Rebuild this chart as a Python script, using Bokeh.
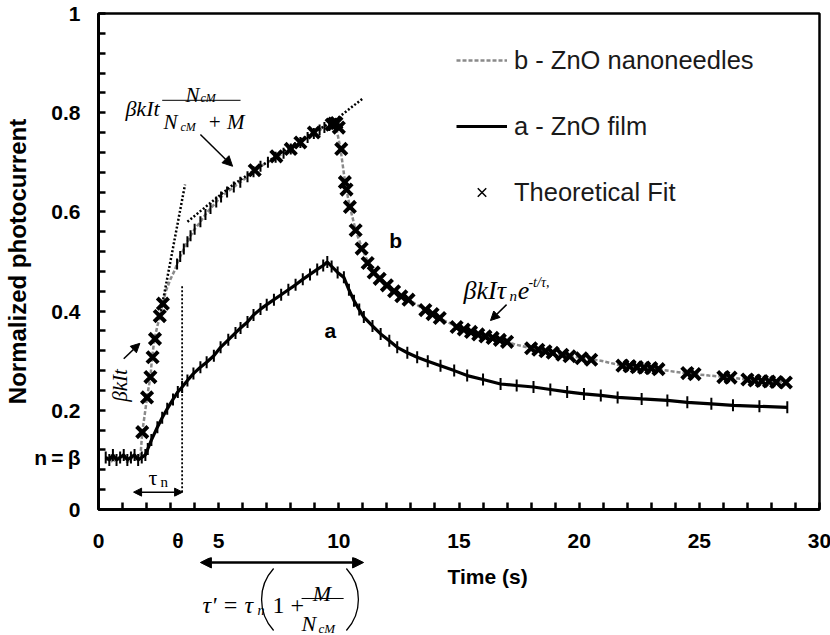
import numpy as np
from bokeh.plotting import figure
from bokeh.layouts import column
from bokeh.models import (FixedTicker, Legend, LegendItem, Label, Arrow,
                          NormalHead, Range1d)
from bokeh.embed import file_html
from bokeh.resources import INLINE

# ---------------- data ----------------
a_t = [0.3, 0.45, 0.6, 0.75, 0.9, 1.05, 1.2, 1.35, 1.5, 1.65, 1.8, 1.95, 2.05, 2.2,
       2.45, 2.65, 2.86, 3.1, 3.3, 3.48, 3.7, 3.95, 4.24, 4.5, 4.8, 5.08, 5.4, 5.7,
       5.91, 6.2, 6.45, 6.74, 7.0, 7.3, 7.6, 7.9, 8.2, 8.5, 8.8, 9.1, 9.35, 9.52,
       9.7, 9.95, 10.21, 10.42, 10.63, 10.85, 11.04, 11.4, 11.74, 12.1, 12.43,
       12.85, 13.26, 13.7, 14.23, 14.8, 15.34, 16.0, 16.73, 17.4, 18.1, 18.8, 19.5,
       20.2, 20.9, 21.6, 22.6, 23.67, 24.5, 25.5, 26.4, 27.5, 28.66]
a_y = [0.105, 0.10, 0.11, 0.10, 0.105, 0.11, 0.10, 0.105, 0.11, 0.10, 0.105, 0.11,
       0.122, 0.14, 0.166, 0.185, 0.203, 0.222, 0.237, 0.247, 0.26, 0.274, 0.287,
       0.297, 0.31, 0.327, 0.342, 0.356, 0.366, 0.378, 0.392, 0.404, 0.413, 0.423,
       0.433, 0.443, 0.453, 0.464, 0.474, 0.484, 0.492, 0.499, 0.49, 0.478, 0.468,
       0.443, 0.421, 0.403, 0.388, 0.37, 0.354, 0.34, 0.327, 0.316, 0.307, 0.299,
       0.29, 0.28, 0.27, 0.262, 0.253, 0.25, 0.247, 0.242, 0.237, 0.233, 0.23,
       0.226, 0.223, 0.22, 0.216, 0.213, 0.21, 0.208, 0.206]

b_t = [0.3, 0.45, 0.6, 0.75, 0.9, 1.05, 1.2, 1.35, 1.5, 1.65, 1.75, 1.82, 1.92, 2.02,
       2.1, 2.16, 2.23, 2.33, 2.45, 2.58, 2.65, 2.8, 3.0, 3.15, 3.27, 3.4, 3.55, 3.7,
       3.83, 4.0, 4.24, 4.45, 4.66, 4.9, 5.1, 5.35, 5.63, 5.9, 6.2, 6.45, 6.74, 7.05,
       7.37, 7.7, 8.0, 8.4, 8.7, 8.96, 9.2, 9.4, 9.6, 9.86, 10.07, 10.28, 10.46,
       10.7, 10.97, 11.25, 11.6, 12.0, 12.43, 12.98, 13.4, 13.95, 14.5, 15.34, 16.0,
       16.73, 17.4, 18.1, 18.8, 19.5, 20.2, 20.9, 21.6, 22.3, 22.97, 23.8, 24.6,
       25.4, 26.16, 26.8, 27.4, 28.0, 28.66]
b_y = [0.10, 0.105, 0.095, 0.105, 0.10, 0.105, 0.095, 0.105, 0.10, 0.105, 0.11,
       0.156, 0.19, 0.226, 0.25, 0.267, 0.307, 0.344, 0.37, 0.394, 0.41, 0.44,
       0.465, 0.48, 0.495, 0.51, 0.525, 0.54, 0.552, 0.565, 0.58, 0.595, 0.607,
       0.62, 0.63, 0.64, 0.65, 0.66, 0.671, 0.681, 0.692, 0.70, 0.71, 0.718, 0.727,
       0.74, 0.75, 0.758, 0.765, 0.77, 0.774, 0.778, 0.727, 0.653, 0.61, 0.563,
       0.526, 0.495, 0.468, 0.452, 0.437, 0.421, 0.408, 0.392, 0.378, 0.361, 0.35,
       0.341, 0.332, 0.324, 0.316, 0.31, 0.305, 0.30, 0.292, 0.288, 0.285, 0.279,
       0.274, 0.27, 0.267, 0.263, 0.26, 0.258, 0.256]

fit_t = [1.82, 2.02, 2.16, 2.25, 2.35, 2.55, 2.68, 6.5, 7.4, 8.0, 8.4, 8.96, 9.7,
         9.8, 9.9, 10.0, 10.1, 10.25, 10.32, 10.46, 10.7, 10.95, 11.2, 11.45, 11.7,
         12.0, 12.3, 12.6, 12.9, 13.6, 13.9, 14.2, 14.9, 15.2, 15.5, 15.8, 16.1,
         16.4, 16.7, 17.0, 18.0, 18.3, 18.6, 18.9, 19.3, 19.6, 20.1, 20.5, 21.8,
         22.1, 22.4, 22.7, 23.0, 23.3, 24.5, 24.8, 26.0, 26.3, 27.0, 27.3, 27.6,
         27.9, 28.2, 28.6]
fit_y = [0.156, 0.226, 0.267, 0.307, 0.344, 0.39, 0.415, 0.684, 0.712, 0.727, 0.74,
         0.76, 0.776, 0.778, 0.779, 0.77, 0.727, 0.66, 0.645, 0.61, 0.563, 0.526,
         0.497, 0.478, 0.465, 0.452, 0.44, 0.43, 0.423, 0.402, 0.394, 0.386, 0.368,
         0.363, 0.358, 0.353, 0.349, 0.346, 0.342, 0.338, 0.325, 0.322, 0.319,
         0.316, 0.312, 0.309, 0.305, 0.302, 0.29, 0.289, 0.287, 0.286, 0.285,
         0.283, 0.275, 0.273, 0.267, 0.266, 0.262, 0.26, 0.259, 0.258, 0.257, 0.256]

# guide lines (dotted tangents, theta marker, fraction bar)
tangent_t = [2.6, 3.6]
tangent_y = [0.40, 0.655]
sat_t = [3.7, 4.2, 5.6, 7.0, 8.4, 9.9, 11.03]
sat_y = [0.58, 0.60, 0.655, 0.70, 0.745, 0.787, 0.83]
theta_t = [3.48, 3.48]
theta_y = [0.035, 0.452]
frac_t = [2.65, 5.91]
frac_y = [0.825, 0.825]

x_ticks = [0, 5, 10, 15, 20, 25, 30]
x_tick_labels = ["0", "5", "10", "15", "20", "25", "30"]
x_marks = list(range(0, 31))
y_ticks = [0, 0.2, 0.4, 0.6, 0.8, 1.0]
y_tick_labels = ["0", "0.2", "0.4", "0.6", "0.8", "1"]
y_marks = [round(0.04 * i, 2) for i in range(26)]
# special labelled positions on the axes
theta_tick, theta_text = 3.3, "θ"
beta_tick, beta_text = 0.105, "n\u2009=\u2009β"

SANS = "Liberation Sans"
SERIF = "Liberation Serif"

p = figure(width=830, height=557, x_range=Range1d(0, 30), y_range=Range1d(0, 1),
           output_backend="svg", toolbar_location=None,
           min_border_left=98, min_border_right=11, min_border_top=13,
           min_border_bottom=48)
p.xgrid.visible = False
p.ygrid.visible = False
p.outline_line_color = "black"
p.outline_line_width = 2.5
p.outline_line_alpha = 1.0

for ax in (p.xaxis[0], p.yaxis[0]):
    ax.axis_line_width = 3
    ax.major_tick_line_color = None
    ax.major_tick_in = 0
    ax.major_tick_out = 0
    ax.minor_tick_line_width = 2.5
    ax.minor_tick_in = 7
    ax.minor_tick_out = 0
    ax.major_label_text_font = SANS
    ax.major_label_text_font_style = "bold"
    ax.major_label_text_font_size = "21px"
    ax.major_label_text_color = "black"
    ax.axis_label_text_font = SANS
    ax.axis_label_text_font_style = "bold"
    ax.axis_label_text_color = "black"

p.xaxis.ticker = FixedTicker(ticks=x_ticks + [theta_tick], minor_ticks=x_marks)
p.xaxis.major_label_overrides = dict(zip(x_ticks + [theta_tick],
                                         x_tick_labels + [theta_text]))
p.yaxis.ticker = FixedTicker(ticks=y_ticks + [beta_tick], minor_ticks=y_marks)
p.yaxis.major_label_overrides = dict(zip(y_ticks + [beta_tick],
                                         y_tick_labels + [beta_text]))
p.xaxis.major_label_standoff = 19
p.yaxis.major_label_standoff = 18
p.yaxis.axis_label = "Normalized photocurrent"
p.yaxis.axis_label_text_font_size = "24px"
p.yaxis.axis_label_standoff = 0

# ---------------- curves ----------------
b_line = p.line(b_t, b_y, line_color="#8a8a8a", line_width=2.5, line_dash="4 2")
rise = [i for i, t in enumerate(b_t) if 3.2 <= t <= 9.9]
p.scatter([b_t[i] for i in rise], [b_y[i] for i in rise], marker="dash",
          angle=np.pi / 2, size=11, line_color="black", line_width=2)

a_line = p.line(a_t, a_y, line_color="black", line_width=3.2)
p.scatter(a_t, a_y, marker="dash", angle=np.pi / 2, size=12,
          line_color="black", line_width=2)

fit_thin = p.scatter(fit_t, fit_y, marker="x", size=10, line_width=1.5,
                     line_color="black")
p.scatter(fit_t, fit_y, marker="x", size=16, line_width=4, line_color="black")

# dotted guides
p.line(tangent_t, tangent_y, line_color="black", line_width=2.5, line_dash="2 2")
p.line(sat_t, sat_y, line_color="black", line_width=2.5, line_dash="2 2")
p.line(theta_t, theta_y, line_color="black", line_width=1.8, line_dash="2 2")
p.line(frac_t, frac_y, line_color="black", line_width=1)

legend = Legend(items=[
    LegendItem(label="b - ZnO nanoneedles", renderers=[b_line]),
    LegendItem(label="a - ZnO film", renderers=[a_line]),
    LegendItem(label="Theoretical Fit", renderers=[fit_thin]),
], location=(358, 302), border_line_color=None, background_fill_alpha=0,
    label_text_font=SANS, label_text_font_size="25.5px", label_text_color="#1a1a1a",
    glyph_width=51, glyph_height=30, label_height=30, label_standoff=7,
    spacing=36, padding=0, margin=0)
p.add_layout(legend)


def lab(fig, x, y, text, size, font=SERIF, style="italic", align="left",
        baseline="alphabetic", angle=0.0):
    fig.add_layout(Label(x=x, y=y, text=text, text_font=font,
                         text_font_size=f"{size}px", text_font_style=style,
                         text_align=align, text_baseline=baseline, angle=angle,
                         text_color="black"))


def arrow(fig, x0, y0, x1, y1, size=9, width=1.5, both=False, heads=True):
    head = NormalHead(size=size, fill_color="black", line_color="black") if heads else None
    start = NormalHead(size=size, fill_color="black", line_color="black") if both else None
    fig.add_layout(Arrow(x_start=x0, y_start=y0, x_end=x1, y_end=y1, end=head,
                         start=start, line_width=width, line_color="black"))


# top-left formula
lab(p, 1.12, 0.808, "βkIt", 22)
lab(p, 3.62, 0.835, "N", 21)
lab(p, 4.24, 0.829, "cM", 12)
lab(p, 2.70, 0.781, "N", 21)
lab(p, 3.41, 0.771, "cM", 12)
lab(p, 4.54, 0.781, "+ M", 21)
arrow(p, 4.24, 0.756, 5.58, 0.692, size=10)

# curve labels
lab(p, 12.36, 0.542, "b", 21, font=SANS, style="bold", align="center", baseline="middle")
lab(p, 9.65, 0.361, "a", 21, font=SANS, style="bold", align="center", baseline="middle")

# decay formula
lab(p, 15.19, 0.4415, "βkIτ", 26)
lab(p, 17.1, 0.431, "n", 15)
lab(p, 17.44, 0.4415, "e", 26)
lab(p, 17.89, 0.458, "-t/τ,", 14)
arrow(p, 16.98, 0.413, 16.31, 0.381, size=9)

# rising formula
lab(p, 0.874, 0.25, "βkIt", 21, align="center", baseline="middle", angle=np.pi / 2)
arrow(p, 1.05, 0.304, 1.72, 0.335, size=9)

# tau_n
lab(p, 2.08, 0.0645, "τ", 22, style="normal")
lab(p, 2.58, 0.056, "n", 15, style="normal")
arrow(p, 1.46, 0.035, 3.5, 0.035, size=8, width=1.5, both=True)

# ---------------- strip below the axis: tau' formula and axis title ----------------
q = figure(width=830, height=78, x_range=p.x_range,
           y_range=Range1d(-0.254, -0.0968), output_backend="svg",
           toolbar_location=None, x_axis_location=None, y_axis_location=None,
           min_border_left=98, min_border_right=11, min_border_top=0,
           min_border_bottom=0)
q.xgrid.visible = False
q.ygrid.visible = False
q.outline_line_color = None

# parentheses of the tau' formula as thin arcs (centre t, centre y, radius px)
paren_l = (8.70, -0.1815)
paren_r = (8.90, -0.1815)
paren_radius = 46
paren_half = np.radians(42.4)

lab(q, 16.19, -0.135, "Time (s)", 21, font=SANS, style="bold", align="center",
    baseline="middle")
arrow(q, 4.24, -0.1069, 11.03, -0.1069, size=11, width=2.5, both=True)
lab(q, 4.33, -0.1935, "τ' = τ", 24)
lab(q, 6.62, -0.2036, "n", 14)
q.arc(x=[paren_l[0]], y=[paren_l[1]], radius=paren_radius, radius_units="screen",
      start_angle=np.pi - paren_half, end_angle=np.pi + paren_half,
      line_color="black", line_width=1.3)
lab(q, 7.24, -0.1935, "1 +", 24, style="normal")
lab(q, 9.30, -0.1694, "M", 22, align="center")
arrow(q, 8.45, -0.1794, 10.2, -0.1794, width=1, heads=False)
lab(q, 8.45, -0.2298, "N", 22)
lab(q, 9.15, -0.2399, "cM", 13)
q.arc(x=[paren_r[0]], y=[paren_r[1]], radius=paren_radius, radius_units="screen",
      start_angle=-paren_half, end_angle=paren_half,
      line_color="black", line_width=1.3)

open("out.html", "w").write(file_html(column(p, q), INLINE))
